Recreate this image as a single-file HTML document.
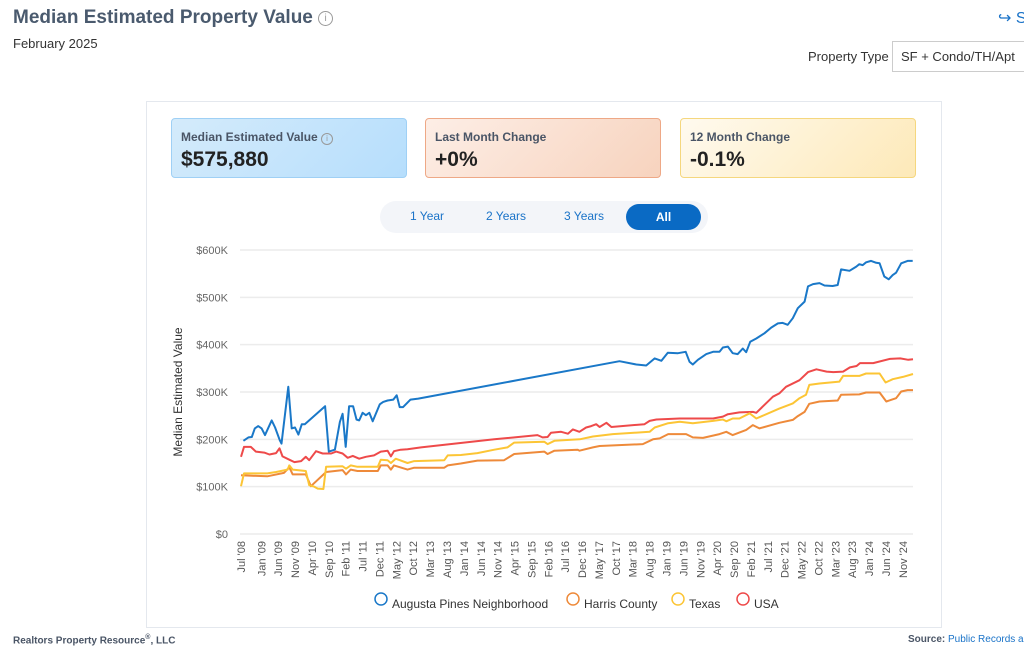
<!DOCTYPE html>
<html><head><meta charset="utf-8"><style>
body{margin:0;width:1024px;height:646px;background:#fff;font-family:"Liberation Sans",sans-serif;position:relative;overflow:hidden}
.a{position:absolute}
.card{position:absolute;top:118px;width:236px;height:60px;border-radius:4px;box-sizing:border-box}
.card .l{position:absolute;left:9px;top:11px;font-size:12px;font-weight:bold;color:#4a5566}
.card .v{position:absolute;left:9px;top:29px;font-size:21px;font-weight:bold;color:#222}
.tab{position:absolute;top:209px;font-size:12px;color:#1a73c8}
</style></head><body>
<div class="a" style="left:13px;top:7px;font-size:19px;font-weight:bold;color:#4a5a6e;white-space:nowrap">Median Estimated Property Value <span style="display:inline-block;width:13px;height:13px;border:1px solid #999;border-radius:50%;font-size:10px;color:#999;text-align:center;line-height:13px;font-weight:normal;vertical-align:2px">i</span></div>
<div class="a" style="left:13px;top:36px;font-size:13px;color:#333">February 2025</div>
<div class="a" style="left:998px;top:8px;font-size:16px;color:#1a73c8;white-space:nowrap">&#x21aa; S</div>
<div class="a" style="left:808px;top:49px;font-size:13px;color:#333">Property Type</div>
<div class="a" style="left:892px;top:41px;width:140px;height:31px;border:1px solid #ccc;box-sizing:border-box;font-size:13px;color:#333;padding:7px 8px;white-space:nowrap">SF + Condo/TH/Apt</div>
<div class="a" style="left:146px;top:101px;width:796px;height:527px;border:1px solid #e4e8ee;box-sizing:border-box"></div>
<div class="card" style="left:171px;background:linear-gradient(135deg,#d4ebfb,#b6defc);border:1px solid #9fd0f5"><div class="l">Median Estimated Value <span style="display:inline-block;width:10px;height:10px;border:1px solid #999;border-radius:50%;font-size:8px;text-align:center;line-height:10px;color:#999;font-weight:normal">i</span></div><div class="v">$575,880</div></div>
<div class="card" style="left:425px;background:linear-gradient(135deg,#fdeee6,#f7d3be);border:1px solid #eea886"><div class="l">Last Month Change</div><div class="v">+0%</div></div>
<div class="card" style="left:680px;background:linear-gradient(135deg,#fffaef,#fde9b8);border:1px solid #f5d77e"><div class="l">12 Month Change</div><div class="v">-0.1%</div></div>
<div class="a" style="left:380px;top:201px;width:328px;height:32px;border-radius:16px;background:#f3f5f9"></div>
<div class="tab" style="left:410px">1 Year</div>
<div class="tab" style="left:486px">2 Years</div>
<div class="tab" style="left:564px">3 Years</div>
<div class="a" style="left:626px;top:204px;width:75px;height:26px;border-radius:13px;background:#0a6ac4;color:#fff;font-size:12px;font-weight:bold;text-align:center;line-height:26px">All</div>
<svg id="chart" class="a" style="left:0;top:0" width="1024" height="646"></svg>
<div class="a" style="left:13px;top:634px;font-size:10px;font-weight:bold;color:#4a5566">Realtors Property Resource<sup style="font-size:7px">®</sup>, LLC</div>
<div class="a" style="left:908px;top:634px;font-size:10px;color:#4a5566;white-space:nowrap"><b>Source:</b> <span style="color:#1a73c8">Public Records a</span></div>
<script>
const tickLabels=["Jul '08","Jan '09","Jun '09","Nov '09","Apr '10","Sep '10","Feb '11","Jul '11","Dec '11","May '12","Oct '12","Mar '13","Aug '13","Jan '14","Jun '14","Nov '14","Apr '15","Sep '15","Feb '16","Jul '16","Dec '16","May '17","Oct '17","Mar '18","Aug '18","Jan '19","Jun '19","Nov '19","Apr '20","Sep '20","Feb '21","Jul '21","Dec '21","May '22","Oct '22","Mar '23","Aug '23","Jan '24","Jun '24","Nov '24"];
const tickMonths=[0,6,11,16,21,26,31,36,41,46,51,56,61,66,71,76,81,86,91,96,101,106,111,116,121,126,131,136,141,146,151,156,161,166,171,176,181,186,191,196];
const yTicks=[0,100,200,300,400,500,600];
const seriesNames=["Augusta Pines Neighborhood","Harris County","Texas","USA"];
const blueMonths=[0.7,2.2,3.2,4.1,5.1,6.1,7.1,9.1,10.1,11.5,12,14,15,16,17,18,18.9,24.9,26,27.8,29.3,30.1,31,32,33.2,34.2,35,36,37,38,39,41.1,42.1,43.4,45.1,46.1,47,48,50.2,52.5,112.1,117.1,120,122.5,124.5,126.4,129.4,131.7,132.8,133.8,135.3,137.8,139.8,141.7,142.7,144.2,145.6,147.1,148.6,149.6,150.8,152.6,155,157,159,160.4,161.9,163.4,164.9,166.9,167.9,169.4,171.3,172.8,175.2,176.7,177.7,180.2,182.2,183.1,184.1,185.1,186.6,188.1,189.1,190.5,191.8,193,194,195.5,197.4,198.9];
const blueValues=[197,204,205,223,228,223,209,240,225,198,191,311,223,225,210,232,232,270,174,178,237,254,184,270,270,242,240,256,251,256,238,274,279,282,284,293,268,268,284,286,365,358,356,371,366,383,382,385,364,358,368,380,385,385,394,396,382,380,392,384,406,413,424,436,445,446,442,456,477,491,523,528,530,525,524,526,559,556,565,570,568,574,577,573,572,544,538,547,552,572,577,577];
const redMonths=[0,0.9,2.9,4.4,6.9,8.4,10.4,11.4,12.3,14.3,15.8,17.8,19.2,20.2,22.2,24.2,26.7,28.2,30.1,31.6,33.1,35,37,39.4,41.4,43.4,44.4,45.3,47.3,49.3,53.3,75,87.8,89.3,90.8,91.8,94.8,96.8,98.3,100.2,102.2,103.7,105.2,106.2,108.2,109.7,119.5,121,123,129.9,132.8,139.8,142.7,144.2,147.6,151.6,152.6,157.5,159.4,161.4,165.4,167.9,170.4,173.4,175.4,178.3,180.3,182.3,183.3,187.2,192.2,195.2,197.6,199];
const redValues=[163,184,184,174,172,168,171,181,164,157,152,154,163,156,175,170,170,174,170,161,165,159,163,166,174,176,164,175,178,179,183,200,209,204,205,214,216,212,221,216,225,228,232,226,235,226,232,239,242,244,244,244,248,253,257,258,256,290,297,311,325,342,348,343,342,343,352,355,361,361,370,371,368,369];
const orangeMonths=[0,7.8,12.7,14.3,15.3,19.2,20.7,25.2,30.1,31.1,32.5,34.5,40.5,41.4,43.4,44.4,45.3,49.3,51.3,60.2,61.2,65.1,70,77.9,80.9,89.8,90.8,92.8,99.7,100.2,104.2,106.2,119,122,124,126.5,131.8,133.8,136.8,141.7,143.7,145.6,149.6,151.6,153.5,159.4,163.4,164.9,166.9,168.3,171.3,176.7,177.7,183.1,185.1,189.1,191.1,194,195.5,197.4,199];
const orangeValues=[124,122,129,141,126,126,101,131,135,126,136,133,133,145,145,136,145,136,140,140,145,149,155,156,169,174,169,176,178,176,183,186,190,200,202,211,211,204,203,211,216,209,220,230,223,235,241,249,258,275,280,282,294,295,299,299,280,287,301,304,304];
const yellowMonths=[0,0.9,7.8,10.4,13.8,14.3,15.3,19.2,20.2,21.7,22.7,24.4,25.2,30.1,31.1,32.5,34.5,40.5,41.4,43.4,44.4,45.8,49.3,51.3,60.2,61.2,65.1,70,75,78.9,80.9,89.8,90.8,92.8,100.3,104.2,110.1,121,122.5,126.5,129.9,133.8,139.8,142.7,143.7,145.6,147.6,150.6,152.6,159.4,163.4,165.4,167.3,168.3,171.3,177.2,178.3,183.1,185.1,189.1,190.9,193,196,199];
const yellowValues=[101,128,128,131,136,145,136,133,103,100,96,95,142,143,138,145,142,142,157,156,150,159,150,154,156,166,167,171,178,183,193,195,190,197,200,206,211,216,225,234,237,234,239,242,238,244,244,255,244,265,276,287,294,315,318,322,334,334,339,339,320,327,332,338];
const svg=document.getElementById('chart');const NS='http://www.w3.org/2000/svg';
const X0=241,X1=913,Y0=534,Y1=250;
function xs(m){return X0+(X1-X0)*m/199}
function ys(v){return Y0-(Y0-Y1)*v/600}
function mk(t,a,p){const e=document.createElementNS(NS,t);for(const k in a)e.setAttribute(k,a[k]);(p||svg).appendChild(e);return e}
yTicks.forEach(v=>{
 const g=mk('line',{x1:240,x2:913,y1:ys(v),y2:ys(v),stroke:'#ececec','stroke-width':1.5});
 
 
 const t=mk('text',{x:228,y:ys(v)+4,'text-anchor':'end','font-size':11,fill:'#666','font-family':'Liberation Sans'});
 t.textContent=v===0?'$0':'$'+v+'K';
 
 
});
tickLabels.forEach((l,i)=>{
 const x=xs(tickMonths[i]);
 const t=mk('text',{x:0,y:0,'text-anchor':'end','font-size':11,fill:'#555','font-family':'Liberation Sans',transform:`translate(${x+4},541) rotate(-90)`});
 t.textContent=l;
 
 
});
const yt=mk('text',{x:0,y:0,'text-anchor':'middle','font-size':12,fill:'#333','font-family':'Liberation Sans',transform:'translate(182,392) rotate(-90)'});
yt.textContent='Median Estimated Value';


const colors=['#1a78c8','#ee8a3a','#fcc535','#ee4a4a'];
const data=[[blueMonths,blueValues],[orangeMonths,orangeValues],[yellowMonths,yellowValues],[redMonths,redValues]];
[3,1,2,0].forEach(i=>{
 const [ms,vs]=data[i];
 const p=mk('polyline',{points:ms.map((m,j)=>xs(m).toFixed(1)+','+ys(vs[j]).toFixed(1)).join(' '),fill:'none',stroke:colors[i],'stroke-width':2,'stroke-linejoin':'round'});
 
 
});
const lx=[381,573,678,743];
seriesNames.forEach((n,i)=>{
 const c=mk('circle',{cx:lx[i],cy:599,r:6,fill:'none',stroke:colors[i],'stroke-width':1.5});
 
 
 const t=mk('text',{x:lx[i]+11,y:608,'font-size':12,fill:'#333','font-family':'Liberation Sans'});
 t.textContent=n;
 
 
});
</script>
</body></html>
